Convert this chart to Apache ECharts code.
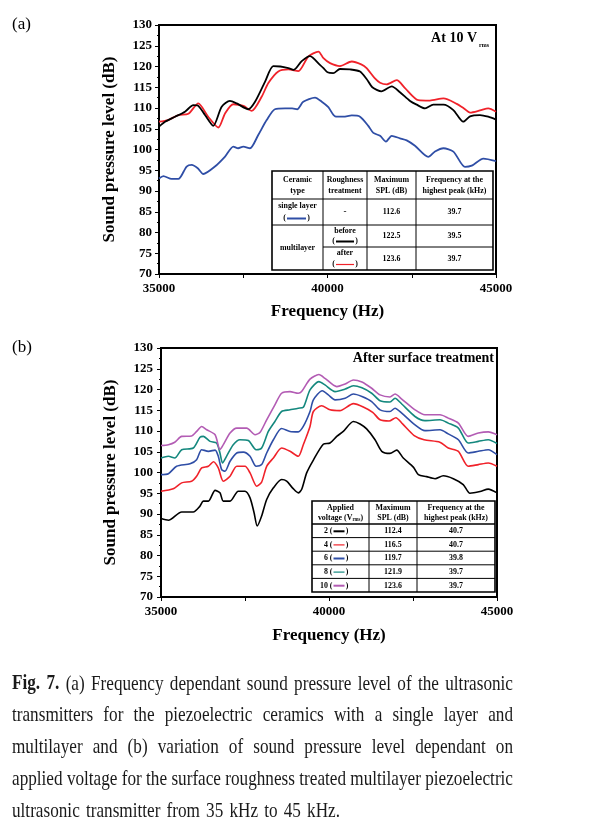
<!DOCTYPE html>
<html><head><meta charset="utf-8">
<script src="https://cdn.jsdelivr.net/npm/echarts@6/dist/echarts.min.js"></script>
<style>html,body{margin:0;padding:0;background:#fff}#c{width:615px;height:832px}</style>
</head><body><div id="c"></div>
<script>
// ---------------- DATA ----------------
const xTickMin = 35000, xTickMax = 45000, xTickStep = 5000;
const yTickMin = 70, yTickMax = 130, yTickStep = 5;

// Panel (a): At 10 Vrms
const aBlackF = [35000,35180,35475,35770,36020,36150,36365,36610,36860,37105,37305,37650,37850,38145,38390,38600,38840,39000,39235,39480,39775,39880,40000,40170,40370,40670,40965,41160,41330,41600,41905,42150,42450,42645,42895,43140,43440,43735,44030,44230,44525,44770,45000];
const aBlackV = [105.5,106.7,107.9,109.1,110.7,110.6,108.3,105.7,110.3,111.7,111.1,109.7,111.5,116.3,120.1,120.0,119.6,119.2,121.3,122.5,120.4,119.6,118.6,118.4,119.4,119.3,118.8,117.0,115.0,114.0,115.2,113.8,111.7,110.8,109.9,110.8,110.8,109.5,106.7,108.0,108.3,107.9,107.2];
const aRedF = [35000,35275,35575,35870,36165,36460,36760,36960,37205,37505,37750,38045,38245,38540,38840,39135,39430,39730,39880,40075,40370,40720,41000,41160,41400,41560,41755,42055,42300,42695,43040,43440,43835,44050,44230,44525,44770,45000];
const aRedV = [106.7,107.1,108.3,108.6,111.1,107.9,105.3,108.7,110.9,110.5,109.3,112.7,116.0,118.8,119.3,118.9,122.4,123.6,122.0,120.8,120.1,121.2,120.5,119.6,117.2,116.1,115.7,116.7,114.8,111.9,111.8,112.3,111.0,109.9,108.9,109.4,109.9,109.1];
const aBlueF = [35000,35130,35375,35575,35820,35970,36150,36315,36660,36960,37205,37350,37500,37700,37945,38195,38440,38740,38950,39100,39280,39630,39830,40025,40225,40470,40720,40965,41210,41360,41560,41735,41905,42150,42350,42595,42990,43190,43440,43735,44080,44280,44625,45000];
const aBlueV = [93.0,93.6,92.9,92.9,95.9,96.3,95.5,94.1,95.9,98.3,100.7,100.3,100.7,100.3,103.5,107.1,109.7,109.9,109.9,109.7,111.5,112.5,111.5,110.2,108.0,107.9,108.2,107.9,105.7,104.0,103.3,101.9,103.3,102.7,102.2,100.9,98.2,99.5,100.3,99.5,95.8,96.1,97.8,97.2];

// Panel (b): after surface treatment, by applied voltage
const b2F = [35000,35220,35615,35960,36160,36260,36410,36610,36755,36855,37055,37300,37500,37650,37770,37865,37995,38145,38345,38590,38740,38935,39085,39185,39335,39535,39830,40030,40230,40425,40725,40925,41120,41370,41570,41815,42015,42210,42510,42660,42905,43155,43400,43700,43995,44195,44495,44740,45000];
const b2V = [88.9,88.5,90.5,90.5,91.9,93.1,93.1,95.7,95.1,93.1,93.1,95.5,95.5,93.9,90.3,87.1,89.5,93.5,96.3,98.3,97.9,96.1,95.1,95.9,99.9,103.0,106.8,107.1,108.7,109.9,112.3,111.7,110.5,107.9,105.1,104.6,105.4,103.5,101.3,99.5,99.0,98.5,99.2,98.5,97.1,95.0,95.4,96.0,95.1];
const b4F = [35000,35365,35615,35910,36060,36210,36410,36560,36705,36855,37055,37255,37500,37650,37850,37995,38145,38345,38590,38840,39085,39235,39435,39535,39780,40030,40325,40725,41020,41300,41520,41790,41990,42190,42535,42830,43300,43550,43850,44145,44445,44740,45000];
const b4V = [95.5,96.1,97.5,97.9,99.1,101.1,101.5,102.6,101.1,97.9,99.1,101.5,101.5,99.9,96.7,97.7,101.5,103.5,105.9,105.1,103.9,106.7,111.1,114.7,116.1,115.1,114.9,116.6,115.8,114.5,112.7,112.4,113.2,111.7,108.9,107.9,107.3,105.9,105.1,101.5,101.9,102.3,101.5];
const b6F = [35000,35220,35465,35865,36060,36210,36410,36610,36705,36805,36905,37055,37255,37450,37650,37830,37995,38145,38345,38590,38840,39085,39235,39435,39535,39800,39980,40180,40480,40725,40980,41270,41520,41815,41965,42165,42560,42855,43305,43550,43850,44145,44445,44740,45000];
const b6V = [99.5,99.7,101.5,102.1,103.1,105.5,105.1,105.4,103.9,100.7,100.3,102.7,104.7,104.9,103.9,101.5,101.9,104.7,107.9,110.6,109.9,109.8,111.1,114.7,117.5,119.7,118.7,117.5,117.9,118.9,118.3,117.1,115.1,114.7,115.5,114.3,111.5,110.1,110.3,109.3,107.9,104.7,105.1,105.5,104.3];
const b8F = [35000,35220,35410,35615,35960,36160,36260,36460,36655,36755,36830,36950,37150,37350,37600,37830,37995,38195,38390,38590,38840,39085,39235,39435,39700,39880,40180,40480,40725,40980,41270,41520,41815,41965,42165,42560,42855,43305,43550,43850,44145,44445,44740,45000];
const b8V = [103.5,103.9,103.5,105.5,105.9,108.5,108.7,107.5,107.1,104.7,102.3,103.9,106.7,107.9,107.7,105.5,105.9,109.9,112.3,114.7,115.1,115.5,115.7,119.9,121.9,121.1,119.5,120.1,120.9,120.4,119.1,117.3,117.0,117.9,116.5,113.5,112.5,112.7,111.9,110.7,107.1,107.5,107.9,107.0];
const b10F = [35000,35220,35410,35615,35910,36060,36210,36360,36610,36755,36855,37055,37255,37550,37800,37950,38145,38390,38590,38840,39085,39185,39435,39700,39880,40230,40480,40725,40980,41270,41520,41815,41965,42165,42560,42855,43305,43550,43850,44145,44445,44740,45000];
const b10V = [106.5,106.7,107.3,108.7,108.8,109.9,111.1,110.3,109.1,105.5,106.7,109.5,110.7,110.7,109.1,109.7,112.7,116.3,119.1,119.5,119.1,119.5,122.5,123.6,122.7,120.7,121.3,122.3,121.8,120.3,118.7,118.2,118.9,117.7,115.1,113.9,113.9,113.1,111.9,108.7,109.5,109.8,109.1];

// Table texts
const tableAHeader = ["Ceramic\ntype", "Roughness\ntreatment", "Maximum\nSPL (dB)", "Frequency at the\nhighest peak (kHz)"];
const tableASPL = ["112.6", "122.5", "123.6"];
const tableAFreq = ["39.7", "39.5", "39.7"];
const tableBVolt = ["2", "4", "6", "8", "10"];
const tableBSPL = ["112.4", "116.5", "119.7", "121.9", "123.6"];
const tableBFreq = ["40.7", "40.7", "39.8", "39.7", "39.7"];

const captionLines = [
  "Fig. 7. (a) Frequency dependant sound pressure level of the ultrasonic",
  "transmitters for the piezoelectric ceramics with a single layer and",
  "multilayer and (b) variation of sound pressure level dependant on",
  "applied voltage for the surface roughness treated multilayer piezoelectric",
  "ultrasonic transmitter from 35 kHz to 45 kHz."
];

// ---------------- STYLE ----------------
const SERIF = "'Liberation Serif', 'Times New Roman', serif";
const C_BLACK = '#000000', C_RED = '#f0222a', C_BLUE = '#2f4ea6', C_TEAL = '#14887e', C_MAG = '#b35cb4';
const TS = 0.88; // condensed table text
const pair = (f, v) => f.map((x, i) => [x, v[i]]);

const chart = echarts.init(document.getElementById('c'), null, {renderer: 'canvas', width: 615, height: 832});

function xAx(gi, gap) {
  return {
    type: 'value', gridIndex: gi, min: xTickMin, max: xTickMax, interval: xTickStep,
    name: 'Frequency (Hz)', nameLocation: 'middle', nameGap: gap,
    nameTextStyle: {fontFamily: SERIF, fontWeight: 'bold', fontSize: 17, color: '#000'},
    axisLine: {show: true, lineStyle: {color: '#000', width: 2}},
    axisTick: {show: true, length: 4, lineStyle: {color: '#000', width: 1}},
    minorTick: {show: true, splitNumber: 2, length: 4, lineStyle: {color: '#000', width: 1}},
    axisLabel: {fontFamily: SERIF, fontWeight: 'bold', fontSize: 13, color: '#000', margin: 8,
      formatter: v => String(v)},
    splitLine: {show: false}
  };
}
function yAx(gi, gap, margin) {
  return {
    type: 'value', gridIndex: gi, min: yTickMin, max: yTickMax, interval: yTickStep,
    name: 'Sound pressure level (dB)', nameLocation: 'middle', nameGap: gap, nameRotate: 90,
    nameTextStyle: {fontFamily: SERIF, fontWeight: 'bold', fontSize: 17, color: '#000'},
    axisLine: {show: true, lineStyle: {color: '#000', width: 2}},
    axisTick: {show: true, length: 4, lineStyle: {color: '#000', width: 1}},
    minorTick: {show: true, splitNumber: 2, length: 2, lineStyle: {color: '#000', width: 1}},
    axisLabel: {fontFamily: SERIF, fontWeight: 'bold', fontSize: 13, color: '#000', margin: margin},
    splitLine: {show: false}
  };
}
function ser(gi, data, color, w, z) {
  return {type: 'line', xAxisIndex: gi, yAxisIndex: gi, data: data, showSymbol: false, smooth: 0.25,
    lineStyle: {color: color, width: w}, itemStyle: {color: color}, z: z, animation: false, clip: true};
}

// ---------------- GRAPHICS ----------------
const G = [];
function T(x, y, text, size, opts) {
  opts = opts || {};
  const font = (opts.bold === false ? '' : 'bold ') + size + 'px ' + SERIF;
  const al = opts.align || 'center';
  const el = {type: 'text', x: x, y: y, z: 100, silent: true,
    style: {text: text, font: font, fill: opts.fill || '#000', textAlign: al, align: al,
      textVerticalAlign: 'middle', verticalAlign: 'middle', lineHeight: opts.lh || size + 1}};
  if (opts.rich) el.style.rich = opts.rich;
  if (opts.scaleX) el.scaleX = opts.scaleX;
  G.push(el);
}
function L(x1, y1, x2, y2, color, w) {
  G.push({type: 'line', z: 100, silent: true, shape: {x1: x1, y1: y1, x2: x2, y2: y2}, style: {stroke: color, lineWidth: w}});
}
function R(x, y, w, h) {
  G.push({type: 'rect', z: 99, silent: true, shape: {x: x, y: y, width: w, height: h}, style: {fill: '#fff', stroke: '#000', lineWidth: 1.6}});
}
function sample(cx, cy, half, color, w) {
  T(cx - half - 2.5, cy, '(', 9, {scaleX: TS});
  T(cx + half + 2.5, cy, ')', 9, {scaleX: TS});
  L(cx - half, cy + 0.5, cx + half, cy + 0.5, color, w);
}

// panel labels
T(12, 25, '(a)', 17, {bold: false, align: 'left'});
T(12, 348, '(b)', 17, {bold: false, align: 'left'});
// inset titles
T(477, 38, 'At 10 V', 14, {align: 'right'});
T(479, 45, 'rms', 6, {align: 'left'});
T(494, 358, 'After surface treatment', 14, {align: 'right'});

// table (a)
(function () {
  const cx = [272, 323, 367, 416, 493], ry = [171, 199, 225, 247, 270];
  R(cx[0], ry[0], cx[4] - cx[0], ry[4] - ry[0]);
  for (let i = 1; i < 4; i++) L(cx[i], ry[0], cx[i], ry[4], '#000', 1);
  L(cx[0], ry[1], cx[4], ry[1], '#000', 1);
  L(cx[0], ry[2], cx[4], ry[2], '#000', 1);
  L(cx[1], ry[3], cx[4], ry[3], '#000', 1);
  const mid = i => (cx[i] + cx[i + 1]) / 2;
  for (let i = 0; i < 4; i++) T(mid(i), 185, tableAHeader[i], 9, {lh: 10.5, scaleX: TS});
  T(mid(0), 206, 'single layer', 9, {scaleX: TS});
  sample(mid(0) - 1, 218, 9.5, C_BLUE, 2);
  T(mid(1), 212, '-', 9);
  T(mid(0), 247.5, 'multilayer', 9, {scaleX: TS});
  T(mid(1), 230.5, 'before', 9, {scaleX: TS});
  sample(mid(1), 241, 9, C_BLACK, 2);
  T(mid(1), 253, 'after', 9, {scaleX: TS});
  sample(mid(1), 264, 9, C_RED, 1.2);
  const rowC = [212, 236, 258.5];
  for (let r = 0; r < 3; r++) { T(mid(2), rowC[r], tableASPL[r], 9, {scaleX: TS}); T(mid(3), rowC[r], tableAFreq[r], 9, {scaleX: TS}); }
})();

// table (b)
(function () {
  const cx = [312, 369, 417, 495];
  const top = 501, hb = 524, rh = 13.6, n = 5, bottom = hb + rh * n;
  R(cx[0], top, cx[3] - cx[0], bottom - top);
  for (let i = 1; i < 3; i++) L(cx[i], top, cx[i], bottom, '#000', 1);
  for (let r = 0; r < n; r++) L(cx[0], hb + rh * r, cx[3], hb + rh * r, '#000', r === 0 ? 1.3 : 1);
  const mid = i => (cx[i] + cx[i + 1]) / 2;
  T(mid(0), 507.5, 'Applied', 9, {scaleX: TS});
  T(mid(0), 518, '{n|voltage (V}{s|rms}{n|)}', 9, {scaleX: TS, rich: {
    n: {fontFamily: SERIF, fontWeight: 'bold', fontSize: 9, lineHeight: 10},
    s: {fontFamily: SERIF, fontWeight: 'bold', fontSize: 5.5, verticalAlign: 'bottom', lineHeight: 10}}});
  T(mid(1), 512.5, 'Maximum\nSPL (dB)', 9, {lh: 10.5, scaleX: TS});
  T(mid(2), 512.5, 'Frequency at the\nhighest peak (kHz)', 9, {lh: 10.5, scaleX: TS});
  const cols = [C_BLACK, C_RED, C_BLUE, C_TEAL, C_MAG];
  const lw = [2, 1.2, 2, 1.2, 2];
  for (let r = 0; r < n; r++) {
    const cy = hb + rh * r + rh / 2;
    T(328, cy, tableBVolt[r], 9, {align: 'right', scaleX: TS});
    sample(339, cy, 5.5, cols[r], lw[r]);
    T(mid(1), cy, tableBSPL[r], 9, {scaleX: TS});
    T(mid(2), cy, tableBFreq[r], 9, {scaleX: TS});
  }
})();

// caption (justified, condensed serif)
(function () {
  const cv = document.createElement('canvas').getContext('2d');
  const F = 21;
  const regF = F + 'px ' + SERIF, boldF = 'bold ' + F + 'px ' + SERIF;
  const mw = (t, f) => { cv.font = f; return cv.measureText(t).width; };
  const spaceW = mw(' ', regF);
  const info = captionLines.map((ln, li) => {
    const words = ln.split(' ');
    const ws = words.map((w, wi) => mw(w, (li === 0 && wi < 2) ? boldF : regF));
    const sum = ws.reduce((a, b) => a + b, 0);
    return {words, ws, sum, nat: sum + spaceW * (words.length - 1)};
  });
  const x0 = 12, W = 501, lastW = 328, y0 = 684, dy = 31.8;
  const s = W / Math.max.apply(null, info.slice(0, 4).map(l => l.nat));
  info.forEach((l, li) => {
    const target = (li < 4 ? W : lastW) / s;
    const gap = (target - l.sum) / (l.words.length - 1);
    let x = 0;
    l.words.forEach((w, wi) => {
      G.push({type: 'text', x: x0 + x * s, y: y0 + li * dy, scaleX: s, z: 100, silent: true,
        style: {text: w, font: ((li === 0 && wi < 2) ? boldF : regF), fill: '#1a1a1a',
          textAlign: 'left', align: 'left', textVerticalAlign: 'middle', verticalAlign: 'middle'}});
      x += l.ws[wi] + gap;
    });
  });
})();

const option = {
  animation: false,
  backgroundColor: '#fff',
  grid: [
    {left: 159, top: 25, width: 337, height: 249, show: true, borderColor: '#000', borderWidth: 2, backgroundColor: 'transparent'},
    {left: 161, top: 348, width: 336, height: 249, show: true, borderColor: '#000', borderWidth: 2, backgroundColor: 'transparent'}
  ],
  xAxis: [xAx(0, 29), xAx(1, 30)],
  yAxis: [yAx(0, 41, 7), yAx(1, 42, 8)],
  series: [
    ser(0, pair(aBlueF, aBlueV), C_BLUE, 1.8, 2),
    ser(0, pair(aRedF, aRedV), C_RED, 1.8, 3),
    ser(0, pair(aBlackF, aBlackV), C_BLACK, 1.8, 4),
    ser(1, pair(b2F, b2V), C_BLACK, 1.6, 2),
    ser(1, pair(b4F, b4V), C_RED, 1.6, 3),
    ser(1, pair(b6F, b6V), C_BLUE, 1.6, 4),
    ser(1, pair(b8F, b8V), C_TEAL, 1.6, 5),
    ser(1, pair(b10F, b10V), C_MAG, 1.6, 6)
  ],
  graphic: {elements: G}
};
chart.setOption(option);
</script>
</body></html>
